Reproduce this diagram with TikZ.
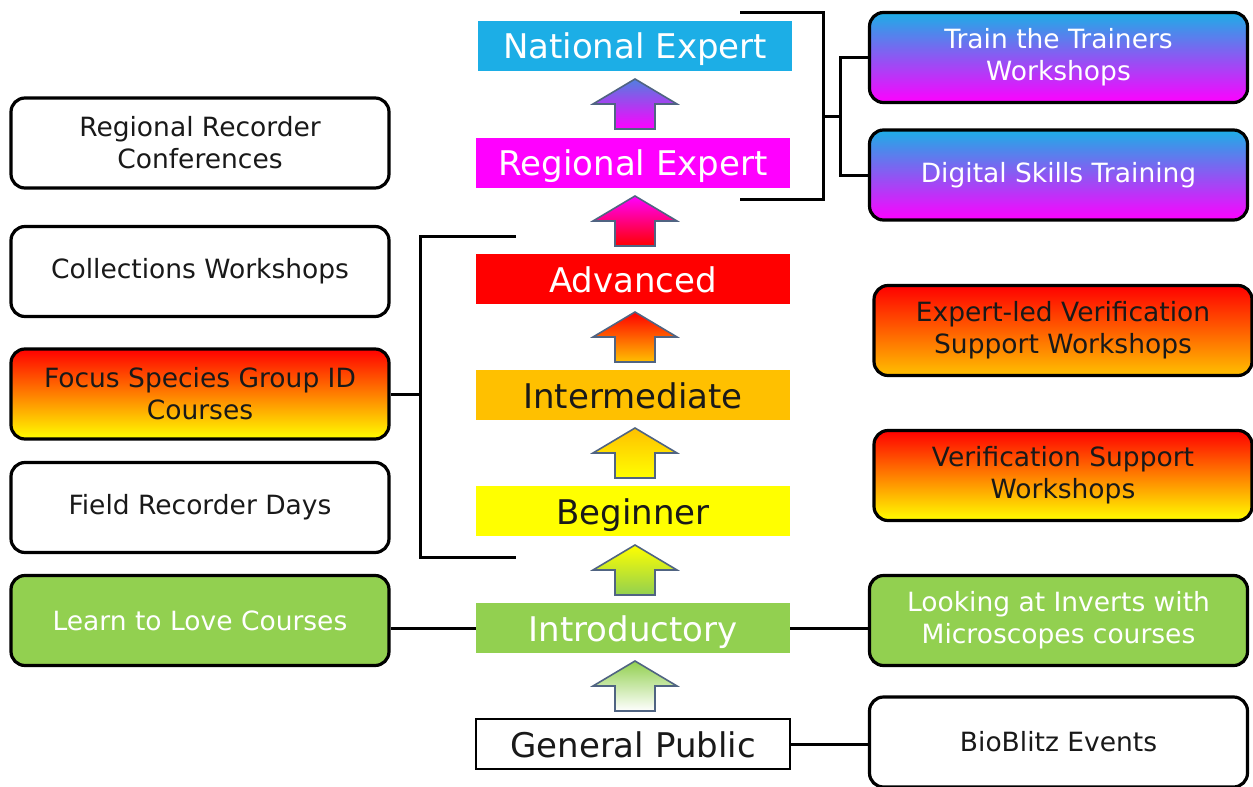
\documentclass[tikz,border=0pt]{standalone}
\usepackage{fontspec}
\setmainfont{DejaVu Sans}
\usetikzlibrary{shadings}
\definecolor{cyanx}{RGB}{28,174,230}
\definecolor{magx}{RGB}{255,0,255}
\definecolor{redx}{RGB}{255,0,0}
\definecolor{orangex}{RGB}{255,192,0}
\definecolor{yellowx}{RGB}{255,255,0}
\definecolor{greenx}{RGB}{146,208,80}
\definecolor{arrowblue}{RGB}{80,128,224}
\definecolor{arrowline}{RGB}{80,100,130}
\definecolor{txt}{RGB}{25,25,25}
\tikzset{
  level/.style={rectangle, minimum width=314pt, minimum height=50pt, inner sep=0pt,
    text height=29pt, text depth=3pt,
    font=\fontsize{34}{36}\selectfont},
  side/.style={rectangle, rounded corners=14pt, draw=black, line width=3.2pt,
    minimum width=378pt, minimum height=90pt, align=center,
    font=\fontsize{26.5}{32}\selectfont, text=txt},
  link/.style={line width=3pt, black},
  uparrow/.style={draw=arrowline, line width=1.6pt},
}
\newcommand\uparr[3]{\path[uparrow, top color=#2, bottom color=#3]
  (635,#1) -- ++(42,25) -- ++(-22,0) -- ++(0,25) -- ++(-40,0) -- ++(0,-25) -- ++(-22,0) -- cycle;}
\begin{document}
\begin{tikzpicture}[x=1pt,y=-1pt]
\useasboundingbox (0,0) rectangle (1253,787);
% central levels
\node[level, fill=cyanx, text=white] (nat) at (635,45.5) {National Expert};
\node[level, fill=magx, text=white] (reg) at (633,162.5) {Regional Expert};
\node[level, fill=redx, text=white] (adv) at (633,279) {Advanced};
\node[level, fill=orangex, text=txt] (int) at (633,395) {Intermediate};
\node[level, fill=yellowx, text=txt] (beg) at (633,511) {Beginner};
\node[level, fill=greenx, text=white] (intro) at (633,628) {Introductory};
\node[level, fill=white, draw=black, line width=1.6pt, text=txt] (gp) at (633,744) {General Public};
% arrows
\uparr{79}{arrowblue}{magx}
\uparr{196}{magx}{redx}
\uparr{312}{redx}{orangex}
\uparr{428}{orangex}{yellowx}
\uparr{545}{yellowx}{greenx}
\uparr{661}{greenx}{white}
% left boxes
\node[side, fill=white] (rrc) at (200,143) {Regional Recorder\\Conferences};
\node[side, fill=white] (coll) at (200,271.5) {Collections Workshops};
\node[side, top color=redx, bottom color=yellowx] (focus) at (200,394) {Focus Species Group ID\\Courses};
\node[side, fill=white] (field) at (200,507.5) {Field Recorder Days};
\node[side, fill=greenx, text=white] (learn) at (200,620.5) {Learn to Love Courses};
% right boxes
\node[side, top color=cyanx, bottom color=magx, text=white] (train) at (1058.5,57.5) {Train the Trainers\\Workshops};
\node[side, top color=cyanx, bottom color=magx, text=white] (digital) at (1058.5,175) {Digital Skills Training};
\node[side, top color=redx, bottom color=orangex] (expert) at (1063,330.5) {Expert-led Verification\\Support Workshops};
\node[side, top color=redx, bottom color=yellowx] (verif) at (1063,475.5) {Verification Support\\Workshops};
\node[side, fill=greenx, text=white] (inverts) at (1058.5,620.5) {Looking at Inverts with\\Microscopes courses};
\node[side, fill=white] (bio) at (1058.5,742) {BioBlitz Events};
% right bracket
\coordinate (rt) at (740,12);
\coordinate (rb) at (740,199);
\coordinate (rspine) at (823,116);
\coordinate (rj) at (840,116);
\draw[link] (rt) -| (rspine) |- (rb);
\draw[link] (rspine) -- (rj);
\draw[link] (train.west) -| (rj) |- (digital.west);
% left bracket
\coordinate (lt) at (516,236);
\coordinate (lb) at (516,557);
\coordinate (lspine) at (420,394);
\draw[link] (lt) -| (lspine) |- (lb);
\draw[link] (focus.east) -- (lspine);
% straight links
\draw[link] (intro.west) -- (intro.west -| learn.east);
\draw[link] (intro.east) -- (intro.east -| inverts.west);
\draw[link] (gp.east) -- (gp.east -| bio.west);
\end{tikzpicture}
\end{document}
